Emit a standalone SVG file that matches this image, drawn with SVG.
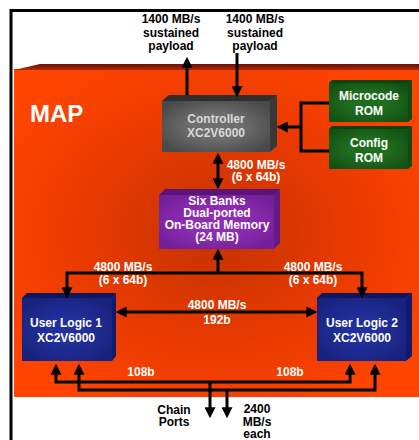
<svg xmlns="http://www.w3.org/2000/svg" width="419" height="440" viewBox="0 0 419 440">
<defs>
<style>
text{font-family:"Liberation Sans",Arial,sans-serif;font-weight:bold;font-size:12px;text-anchor:middle}
.w{fill:#ffffff}
.k{fill:#000000}
.g{fill:#d8d8d8}
.ln{fill:none;stroke:#000;stroke-width:3}
.arr{fill:none;stroke:#000;stroke-width:3;marker-end:url(#ah)}
.arr2{fill:none;stroke:#000;stroke-width:3;marker-start:url(#ah);marker-end:url(#ah)}
</style>
<marker id="ah" viewBox="0 0 10 10" refX="7" refY="5" markerWidth="11" markerHeight="11" markerUnits="userSpaceOnUse" orient="auto-start-reverse">
<path d="M0,0 L10,5 L0,10 z" fill="#000"/>
</marker>
<radialGradient id="bg" cx="0.5" cy="0.5" r="0.6">
<stop offset="0" stop-color="#c43200"/>
<stop offset="0.55" stop-color="#e83a00"/>
<stop offset="1" stop-color="#ff4400"/>
</radialGradient>
<linearGradient id="band" x1="0" y1="0" x2="0" y2="1">
<stop offset="0" stop-color="#6e0e00"/>
<stop offset="1" stop-color="#a82a10"/>
</linearGradient>
<radialGradient id="grey" cx="0.5" cy="0.5" r="0.6">
<stop offset="0.4" stop-color="#6e6e6e"/>
<stop offset="1" stop-color="#4a4a4a"/>
</radialGradient>
<radialGradient id="green" cx="0.5" cy="0.5" r="0.6">
<stop offset="0.4" stop-color="#1f6e1f"/>
<stop offset="1" stop-color="#145214"/>
</radialGradient>
<radialGradient id="purple" cx="0.5" cy="0.5" r="0.6">
<stop offset="0.4" stop-color="#8e2cb4"/>
<stop offset="1" stop-color="#74209a"/>
</radialGradient>
<radialGradient id="blue" cx="0.5" cy="0.5" r="0.6">
<stop offset="0.3" stop-color="#22309e"/>
<stop offset="1" stop-color="#18227c"/>
</radialGradient>
</defs>

<g id="frame">
<rect x="0" y="0" width="419" height="440" fill="#ffffff"/>
<path d="M11,440 L11,10.5 L419,10.5" fill="none" stroke="#000" stroke-width="3"/>
</g>

<g id="map">
<rect x="14" y="69" width="405" height="328" fill="url(#bg)"/>
<polygon points="14,70 40,64 419,64 419,70" fill="url(#band)"/>
<text x="30" y="122" class="w" style="font-size:24px;text-anchor:start">MAP</text>
</g>

<g id="controller">
<polygon points="162,101 169,95 277,95 270,101" fill="#2e2e2e"/>
<polygon points="270,101 277,95 277,146 270,152" fill="#383838"/>
<rect x="162" y="101" width="108" height="51" fill="url(#grey)"/>
<text x="216" y="123" class="g">Controller</text>
<text x="216" y="137" class="g">XC2V6000</text>
</g>

<g id="microcode-rom">
<polygon points="329,83 332,80 412,80 408,83" fill="#0e420e"/>
<polygon points="408,83 412,80 412,119 408,122" fill="#0f4a0f"/>
<rect x="329" y="83" width="79" height="39" fill="url(#green)"/>
<text x="369" y="100" class="w">Microcode</text>
<text x="369" y="114.5" class="w">ROM</text>
</g>

<g id="config-rom">
<polygon points="329,129 332,126 412,126 408,129" fill="#0e420e"/>
<polygon points="408,129 412,126 412,166 408,169" fill="#0f4a0f"/>
<rect x="329" y="129" width="79" height="40" fill="url(#green)"/>
<text x="369" y="147" class="w">Config</text>
<text x="369" y="162" class="w">ROM</text>
</g>

<g id="memory">
<polygon points="159,195 165,189 280,189 274,195" fill="#5a1478"/>
<polygon points="274,195 280,189 280,243 274,249" fill="#641a86"/>
<rect x="159" y="195" width="115" height="54" fill="url(#purple)"/>
<text x="217" y="205" class="w">Six Banks</text>
<text x="217" y="217" class="w">Dual-ported</text>
<text x="217" y="229" class="w">On-Board Memory</text>
<text x="217" y="241" class="w">(24 MB)</text>
</g>

<g id="user-logic-1">
<polygon points="22,298 27,293 116,293 112,298" fill="#0e1562"/>
<polygon points="112,298 116,293 116,356 112,361" fill="#121a6e"/>
<rect x="22" y="298" width="90" height="63" fill="url(#blue)"/>
<text x="66" y="327" class="w">User Logic 1</text>
<text x="66" y="342" class="w">XC2V6000</text>
</g>

<g id="user-logic-2">
<polygon points="317,298 322,293 412,293 406,298" fill="#0e1562"/>
<polygon points="406,298 412,293 412,356 406,361" fill="#121a6e"/>
<rect x="317" y="298" width="89" height="63" fill="url(#blue)"/>
<text x="362" y="327" class="w">User Logic 2</text>
<text x="362" y="342" class="w">XC2V6000</text>
</g>

<g id="connectors">
<path class="arr" d="M187,95 L187,60"/>
<path class="arr" d="M237,53 L237,94"/>
<path class="ln" d="M329,103 L301,103 L301,151 L329,151"/>
<path class="arr" d="M301,127 L280,127"/>
<path class="arr2" d="M218,156 L218,186"/>
<path class="arr" d="M218,273 L218,252"/>
<path class="arr2" d="M67,295 L67,273 L362,273 L362,295"/>
<path class="arr2" d="M119,312 L314,312"/>
<path class="arr2" d="M56,367 L56,382 L350,382 L350,367"/>
<path class="arr2" d="M79,367 L79,390 L375,390 L375,367"/>
<path class="arr" d="M210,382 L210,415"/>
<path class="arr" d="M227,390 L227,415"/>
</g>

<g id="labels">
<text x="171" y="23" class="k">1400 MB/s</text>
<text x="171" y="36.5" class="k">sustained</text>
<text x="171" y="50" class="k">payload</text>
<text x="255" y="23" class="k">1400 MB/s</text>
<text x="255" y="36.5" class="k">sustained</text>
<text x="255" y="50" class="k">payload</text>
<text x="256" y="169" class="w">4800 MB/s</text>
<text x="256" y="181" class="w">(6 x 64b)</text>
<text x="123" y="271" class="w">4800 MB/s</text>
<text x="123" y="284" class="w">(6 x 64b)</text>
<text x="313" y="271" class="w">4800 MB/s</text>
<text x="313" y="284" class="w">(6 x 64b)</text>
<text x="217" y="308.5" class="w">4800 MB/s</text>
<text x="217" y="324" class="w">192b</text>
<text x="141" y="376" class="w">108b</text>
<text x="290" y="376" class="w">108b</text>
<text x="174" y="413.5" class="k">Chain</text>
<text x="174" y="426" class="k">Ports</text>
<text x="257" y="413" class="k">2400</text>
<text x="257" y="425.5" class="k">MB/s</text>
<text x="257" y="437.5" class="k">each</text>
</g>
</svg>
